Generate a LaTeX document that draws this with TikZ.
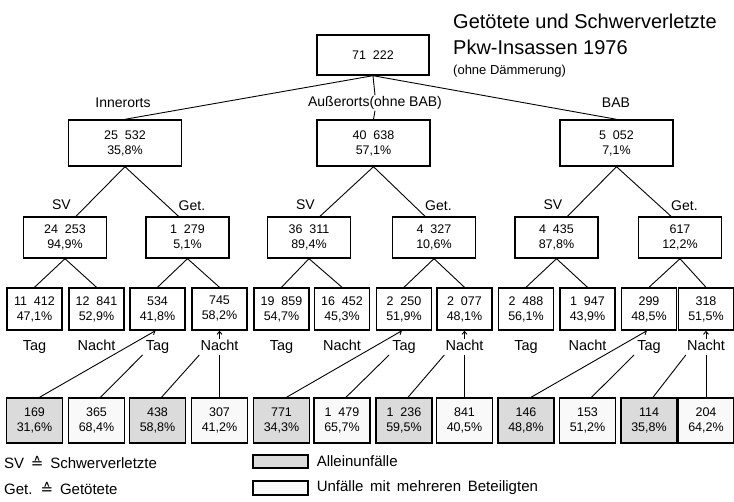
\documentclass[tikz,border=0pt]{standalone}
\usepackage{fontspec}
\setmainfont{Liberation Sans}
\newfontfamily\symfont{DejaVu Sans}
\usetikzlibrary{arrows.meta, positioning, calc}

\newcommand\boxfont{\fontsize{12.5}{15}\selectfont\spaceskip=0.55em\relax}
\newcommand\keyfont{\fontsize{15}{17}\selectfont\spaceskip=0.45em\relax}

\tikzset{
  box/.style={draw, line width=1.4pt, align=center, inner sep=1pt, font=\boxfont},
  topbox/.style={box, minimum width=112pt, minimum height=40pt},
  mainbox/.style={box, minimum width=113pt, minimum height=46pt},
  subbox/.style={box, minimum width=83pt, minimum height=41pt},
  leafbox/.style={box, minimum width=55pt, minimum height=42pt},
  alone/.style={box, minimum width=56pt, minimum height=45pt, fill=gray!28},
  multi/.style={box, minimum width=56pt, minimum height=45pt, fill=gray!5},
  title/.style={anchor=west, inner sep=0pt, font=\fontsize{20}{24}\selectfont},
  cat/.style={font=\fontsize{14}{16}\selectfont, inner sep=1pt},
  branch/.style={font=\fontsize{14}{16}\selectfont, inner sep=1pt},
  daytime/.style={font=\fontsize{14.5}{16}\selectfont, inner sep=1pt, text height=10.5pt, text depth=3pt},
  legend/.style={font=\keyfont, inner sep=0pt},
  link/.style={line width=0.9pt},
  tip/.style={link, -{Straight Barb[length=3pt, width=5pt]}},
}

\begin{document}
\begin{tikzpicture}[x=1pt, y=-1pt]
  \useasboundingbox (0,0) rectangle (734,502);

  % title
  \node[title] (head1) at (453,21) {Getötete und Schwerverletzte};
  \node[title] (head2) at (453,47) {Pkw-Insassen 1976};
  \node[title, font=\fontsize{13}{15}\selectfont] (head3) at (453,71) {(ohne Dämmerung)};

  % total and road types
  \node[topbox] (total) at (373,55) {71 222};
  \node[cat] (innerlbl) at (123,103) {Innerorts};
  \node[cat] (outerlbl) at (375,103) {Außerorts(ohne BAB)};
  \node[cat] (bablbl) at (616,103) {BAB};
  \node[mainbox] (inner) at (125,143) {25 532\\35,8\%};
  \node[mainbox] (outer) at (373.5,143) {40 638\\57,1\%};
  \node[mainbox] (bab) at (616.5,143) {5 052\\7,1\%};
  \draw[link] (total.south) -- (inner.north);
  \draw[link] (total.south) -- (bab.north);
  \draw[link] (total.south) -- (outerlbl.north);
  \draw[link] (outerlbl.south) -- (outer.north);

  % SV / Get.
  \node[subbox] (sv1) at (65,237.5) {24 253\\94,9\%};
  \node[subbox] (get1) at (187.5,237.5) {1 279\\5,1\%};
  \node[subbox] (sv2) at (309,237.5) {36 311\\89,4\%};
  \node[subbox] (get2) at (434,237.5) {4 327\\10,6\%};
  \node[subbox] (sv3) at (556.5,237.5) {4 435\\87,8\%};
  \node[subbox] (get3) at (680,237.5) {617\\12,2\%};
  \draw[link] (inner.south) -- ([xshift=11pt]sv1.north);
  \draw[link] (inner.south) -- ([xshift=-9pt]get1.north);
  \draw[link] (outer.south) -- ([xshift=11pt]sv2.north);
  \draw[link] (outer.south) -- ([xshift=-9pt]get2.north);
  \draw[link] (bab.south) -- ([xshift=11pt]sv3.north);
  \draw[link] (bab.south) -- ([xshift=-9pt]get3.north);
  \node[branch, anchor=south east] (svl1) at ([xshift=7pt,yshift=5pt]sv1.north) {SV};
  \node[branch, anchor=south west] (getl1) at ([xshift=-10pt,yshift=4pt]get1.north) {Get.};
  \node[branch, anchor=south east] (svl2) at ([xshift=7pt,yshift=5pt]sv2.north) {SV};
  \node[branch, anchor=south west] (getl2) at ([xshift=-10pt,yshift=4pt]get2.north) {Get.};
  \node[branch, anchor=south east] (svl3) at ([xshift=7pt,yshift=5pt]sv3.north) {SV};
  \node[branch, anchor=south west] (getl3) at ([xshift=-10pt,yshift=4pt]get3.north) {Get.};

  % Tag / Nacht
  \node[leafbox] (t0) at (34.5,309) {11 412\\47,1\%};
  \node[leafbox] (t1) at (96.5,309) {12 841\\52,9\%};
  \node[leafbox] (t2) at (157.5,309) {534\\41,8\%};
  \node[leafbox] (t3) at (219.5,309) {745\\58,2\%};
  \node[leafbox] (t4) at (281.5,309) {19 859\\54,7\%};
  \node[leafbox] (t5) at (342,309) {16 452\\45,3\%};
  \node[leafbox] (t6) at (404,309) {2 250\\51,9\%};
  \node[leafbox] (t7) at (464.5,309) {2 077\\48,1\%};
  \node[leafbox] (t8) at (526,309) {2 488\\56,1\%};
  \node[leafbox] (t9) at (587.5,309) {1 947\\43,9\%};
  \node[leafbox] (t10) at (649,309) {299\\48,5\%};
  \node[leafbox] (t11) at (706,309) {318\\51,5\%};
  \draw[link] (sv1.south) -- (t0.north);
  \draw[link] (sv1.south) -- (t1.north);
  \draw[link] (get1.south) -- (t2.north);
  \draw[link] (get1.south) -- (t3.north);
  \draw[link] (sv2.south) -- (t4.north);
  \draw[link] (sv2.south) -- (t5.north);
  \draw[link] (get2.south) -- (t6.north);
  \draw[link] (get2.south) -- (t7.north);
  \draw[link] (sv3.south) -- (t8.north);
  \draw[link] (sv3.south) -- (t9.north);
  \draw[link] (get3.south) -- (t10.north);
  \draw[link] (get3.south) -- (t11.north);
  \node[daytime] (d0) at (34.5,347) {Tag};
  \node[daytime] (d1) at (96.5,347) {Nacht};
  \node[daytime] (d2) at (157.5,347) {Tag};
  \node[daytime] (d3) at (219.5,347) {Nacht};
  \node[daytime] (d4) at (281.5,347) {Tag};
  \node[daytime] (d5) at (342,347) {Nacht};
  \node[daytime] (d6) at (404,347) {Tag};
  \node[daytime] (d7) at (464.5,347) {Nacht};
  \node[daytime] (d8) at (526,347) {Tag};
  \node[daytime] (d9) at (587.5,347) {Nacht};
  \node[daytime] (d10) at (649,347) {Tag};
  \node[daytime] (d11) at (706,347) {Nacht};

  % Alleinunfaelle / mehrere Beteiligte
  \node[alone] (u0) at (34.5,420.5) {169\\31,6\%};
  \node[multi] (u1) at (96.5,420.5) {365\\68,4\%};
  \node[alone] (u2) at (157.5,420.5) {438\\58,8\%};
  \node[multi] (u3) at (219.5,420.5) {307\\41,2\%};
  \node[alone] (u4) at (281.5,420.5) {771\\34,3\%};
  \node[multi] (u5) at (342,420.5) {1 479\\65,7\%};
  \node[alone] (u6) at (404,420.5) {1 236\\59,5\%};
  \node[multi] (u7) at (464.5,420.5) {841\\40,5\%};
  \node[alone] (u8) at (526,420.5) {146\\48,8\%};
  \node[multi] (u9) at (587.5,420.5) {153\\51,2\%};
  \node[alone] (u10) at (649,420.5) {114\\35,8\%};
  \node[multi] (u11) at (706,420.5) {204\\64,2\%};
  \draw[tip] ([xshift=5pt]u0.north) -- ([xshift=-2pt]t2.south);
  \draw[link] ([xshift=-2pt]d2.south west) -- ([xshift=4pt]u1.north);
  \draw[tip] (d3.north) -- (t3.south);
  \draw[link] (d3.south west) -- ([xshift=4pt]u2.north);
  \draw[link] (d3.south) -- (u3.north);
  \draw[tip] ([xshift=5pt]u4.north) -- ([xshift=-2pt]t6.south);
  \draw[link] ([xshift=-2pt]d6.south west) -- ([xshift=4pt]u5.north);
  \draw[tip] (d7.north) -- (t7.south);
  \draw[link] (d7.south west) -- ([xshift=4pt]u6.north);
  \draw[link] (d7.south) -- (u7.north);
  \draw[tip] ([xshift=5pt]u8.north) -- ([xshift=-2pt]t10.south);
  \draw[link] ([xshift=-2pt]d10.south west) -- ([xshift=4pt]u9.north);
  \draw[tip] (d11.north) -- (t11.south);
  \draw[link] (d11.south west) -- ([xshift=4pt]u10.north);
  \draw[link] (d11.south) -- (u11.north);

  % legend
  \node[legend, anchor=west] (svkey) at (4,462) {SV {\symfont ≙} Schwerverletzte};
  \node[legend, anchor=west] (getkey) at (4,488) {Get. {\symfont ≙} Getötete};
  \node[draw, line width=1.2pt, fill=gray!28, minimum width=55pt, minimum height=13pt] (alonekey) at (280.5,461.5) {};
  \node[draw, line width=1.2pt, fill=gray!5, minimum width=55pt, minimum height=14pt] (multikey) at (280.5,488) {};
  \node[legend, right=8pt of alonekey] (alonetxt) {Alleinunfälle};
  \node[legend, right=8pt of multikey] (multitxt) {Unfälle mit mehreren Beteiligten};
\end{tikzpicture}
\end{document}
